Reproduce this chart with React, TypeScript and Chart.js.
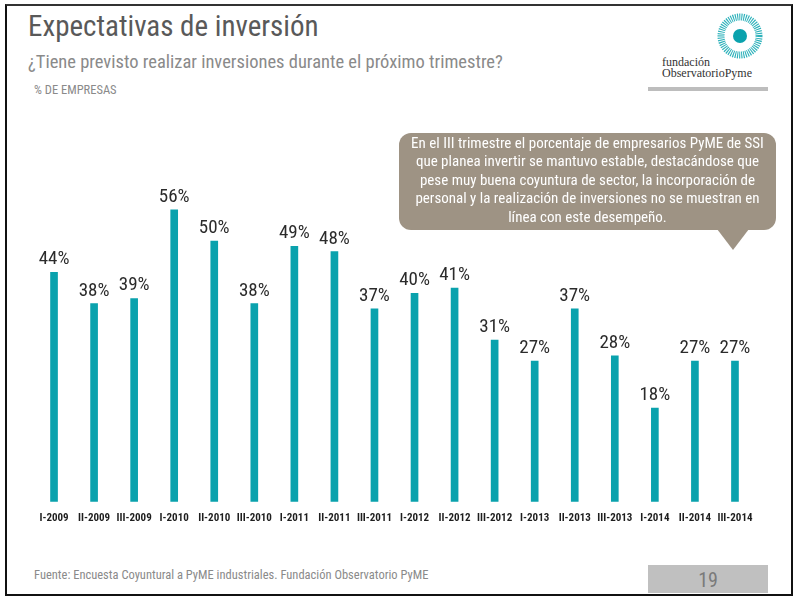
import React, { useEffect, useRef } from "react";
import { Chart, registerables } from "chart.js";

Chart.register(...registerables);

const categories = [
  "I-2009", "II-2009", "III-2009", "I-2010", "II-2010", "III-2010",
  "I-2011", "II-2011", "III-2011", "I-2012", "II-2012", "III-2012",
  "I-2013", "II-2013", "III-2013", "I-2014", "II-2014", "III-2014",
];
const empresas = [44, 38, 39, 56, 50, 38, 49, 48, 37, 40, 41, 31, 27, 37, 28, 18, 27, 27];

const calloutLines = [
  "En el III trimestre el porcentaje de empresarios PyME de SSI",
  "que planea invertir se mantuvo estable, destacándose que",
  "pese muy buena coyuntura de sector, la incorporación de",
  "personal y la realización de inversiones no se muestran en",
  "línea con este desempeño.",
];

const NARROW = '"Liberation Sans Narrow", "Arial Narrow", "Roboto Condensed", "DejaVu Sans Condensed", sans-serif';
const TEAL = "#0aa2ad";

const valueLabels = {
  id: "valueLabels",
  afterDatasetsDraw(chart: any) {
    const ctx = chart.ctx;
    const meta = chart.getDatasetMeta(0);
    const data = chart.data.datasets[0].data as number[];
    ctx.save();
    ctx.fillStyle = "#2b2b2b";
    ctx.font = `19px ${NARROW}`;
    ctx.textAlign = "center";
    ctx.textBaseline = "alphabetic";
    meta.data.forEach((el: any, i: number) => {
      ctx.fillText(`${data[i]}%`, el.x, el.y - 8);
    });
    ctx.restore();
  },
};

function ChartCanvas() {
  const ref = useRef<HTMLCanvasElement | null>(null);
  useEffect(() => {
    if (!ref.current) return;
    const chart = new Chart(ref.current, {
      type: "bar",
      data: {
        labels: categories,
        datasets: [
          {
            data: empresas,
            backgroundColor: TEAL,
            barThickness: 7,
            borderWidth: 0,
          },
        ],
      },
      options: {
        animation: false,
        responsive: false,
        maintainAspectRatio: false,
        layout: { padding: { left: 34, right: 38, top: 89, bottom: 5 } },
        plugins: {
          legend: { display: false },
          tooltip: { enabled: false },
          title: { display: false },
        },
        scales: {
          x: {
            grid: { display: false, drawTicks: false },
            border: { display: false },
            ticks: {
              padding: 10,
              color: "#1e1e1e",
              font: { family: NARROW, size: 11, weight: "bold" },
              maxRotation: 0,
              autoSkip: false,
            },
          },
          y: { display: false, min: 0, max: 60 },
        },
      },
      plugins: [valueLabels],
    });
    return () => chart.destroy();
  }, []);
  return (
    <canvas
      ref={ref}
      width={793}
      height={440}
      style={{ position: "absolute", left: 0, top: 100, width: 793, height: 440 }}
    />
  );
}

export default function App() {
  useEffect(() => {
    document.body.style.margin = "0";
  }, []);
  return (
    <div
      style={{
        position: "absolute",
        left: 0,
        top: 0,
        width: 793,
        height: 596,
        background: "#fff",
        overflow: "hidden",
        fontFamily: NARROW,
      }}
    >
      <div
        style={{
          position: "absolute",
          left: 5,
          top: 4,
          width: 784,
          height: 588,
          border: "2px solid #111",
          borderTopColor: "#333",
          boxSizing: "content-box",
        }}
      />
      <div style={{ position: "absolute", left: 28, top: 10, fontSize: 29, color: "#595959", whiteSpace: "nowrap", lineHeight: "32px" }}>
        Expectativas de inversión
      </div>
      <div style={{ position: "absolute", left: 28, top: 51, fontSize: 18.5, color: "#8a8a8a", whiteSpace: "nowrap", lineHeight: "22px" }}>
        ¿Tiene previsto realizar inversiones durante el próximo trimestre?
      </div>
      <div style={{ position: "absolute", left: 34, top: 83, fontSize: 12.5, color: "#8a8a8a", whiteSpace: "nowrap", lineHeight: "14px" }}>
        % DE EMPRESAS
      </div>

      <svg style={{ position: "absolute", left: 640, top: 8 }} width={140} height={86}>
        <circle cx={100} cy={28} r={19} fill="none" stroke="#2fb2bb" strokeWidth={7} strokeDasharray="1.1 1" />
        <circle cx={100} cy={28} r={7} fill={TEAL} />
        <text x={22} y={58} fontFamily='"Liberation Serif", "DejaVu Serif", serif' fontSize={12} fill="#333">fundación</text>
        <text x={22} y={69} fontFamily='"Liberation Serif", "DejaVu Serif", serif' fontSize={12} fill="#333">ObservatorioPyme</text>
        <rect x={8} y={79} width={120} height={4} fill="#bdbdbd" />
      </svg>

      <ChartCanvas />

      <div
        style={{
          position: "absolute",
          left: 399,
          top: 133,
          width: 377,
          height: 97,
          background: "#9e9384",
          borderRadius: 12,
          color: "#fff",
          fontSize: 15,
          lineHeight: "18.4px",
          textAlign: "center",
          paddingTop: 1,
          boxSizing: "border-box",
          whiteSpace: "nowrap",
        }}
      >
        {calloutLines.map((l, i) => (
          <div key={i}>{l}</div>
        ))}
      </div>
      <svg style={{ position: "absolute", left: 715, top: 229 }} width={36} height={24}>
        <polygon points="2,0 34,0 18,21" fill="#9e9384" />
      </svg>

      <div style={{ position: "absolute", left: 34, top: 567, fontSize: 12.5, color: "#8a8a8a", whiteSpace: "nowrap", lineHeight: "15px" }}>
        Fuente: Encuesta Coyuntural a PyME industriales. Fundación Observatorio PyME
      </div>
      <div
        style={{
          position: "absolute",
          left: 648,
          top: 565,
          width: 120,
          height: 28,
          background: "#c0c0c0",
          color: "#7a7a7a",
          fontSize: 20,
          lineHeight: "30px",
          textAlign: "center",
        }}
      >
        19
      </div>
    </div>
  );
}
